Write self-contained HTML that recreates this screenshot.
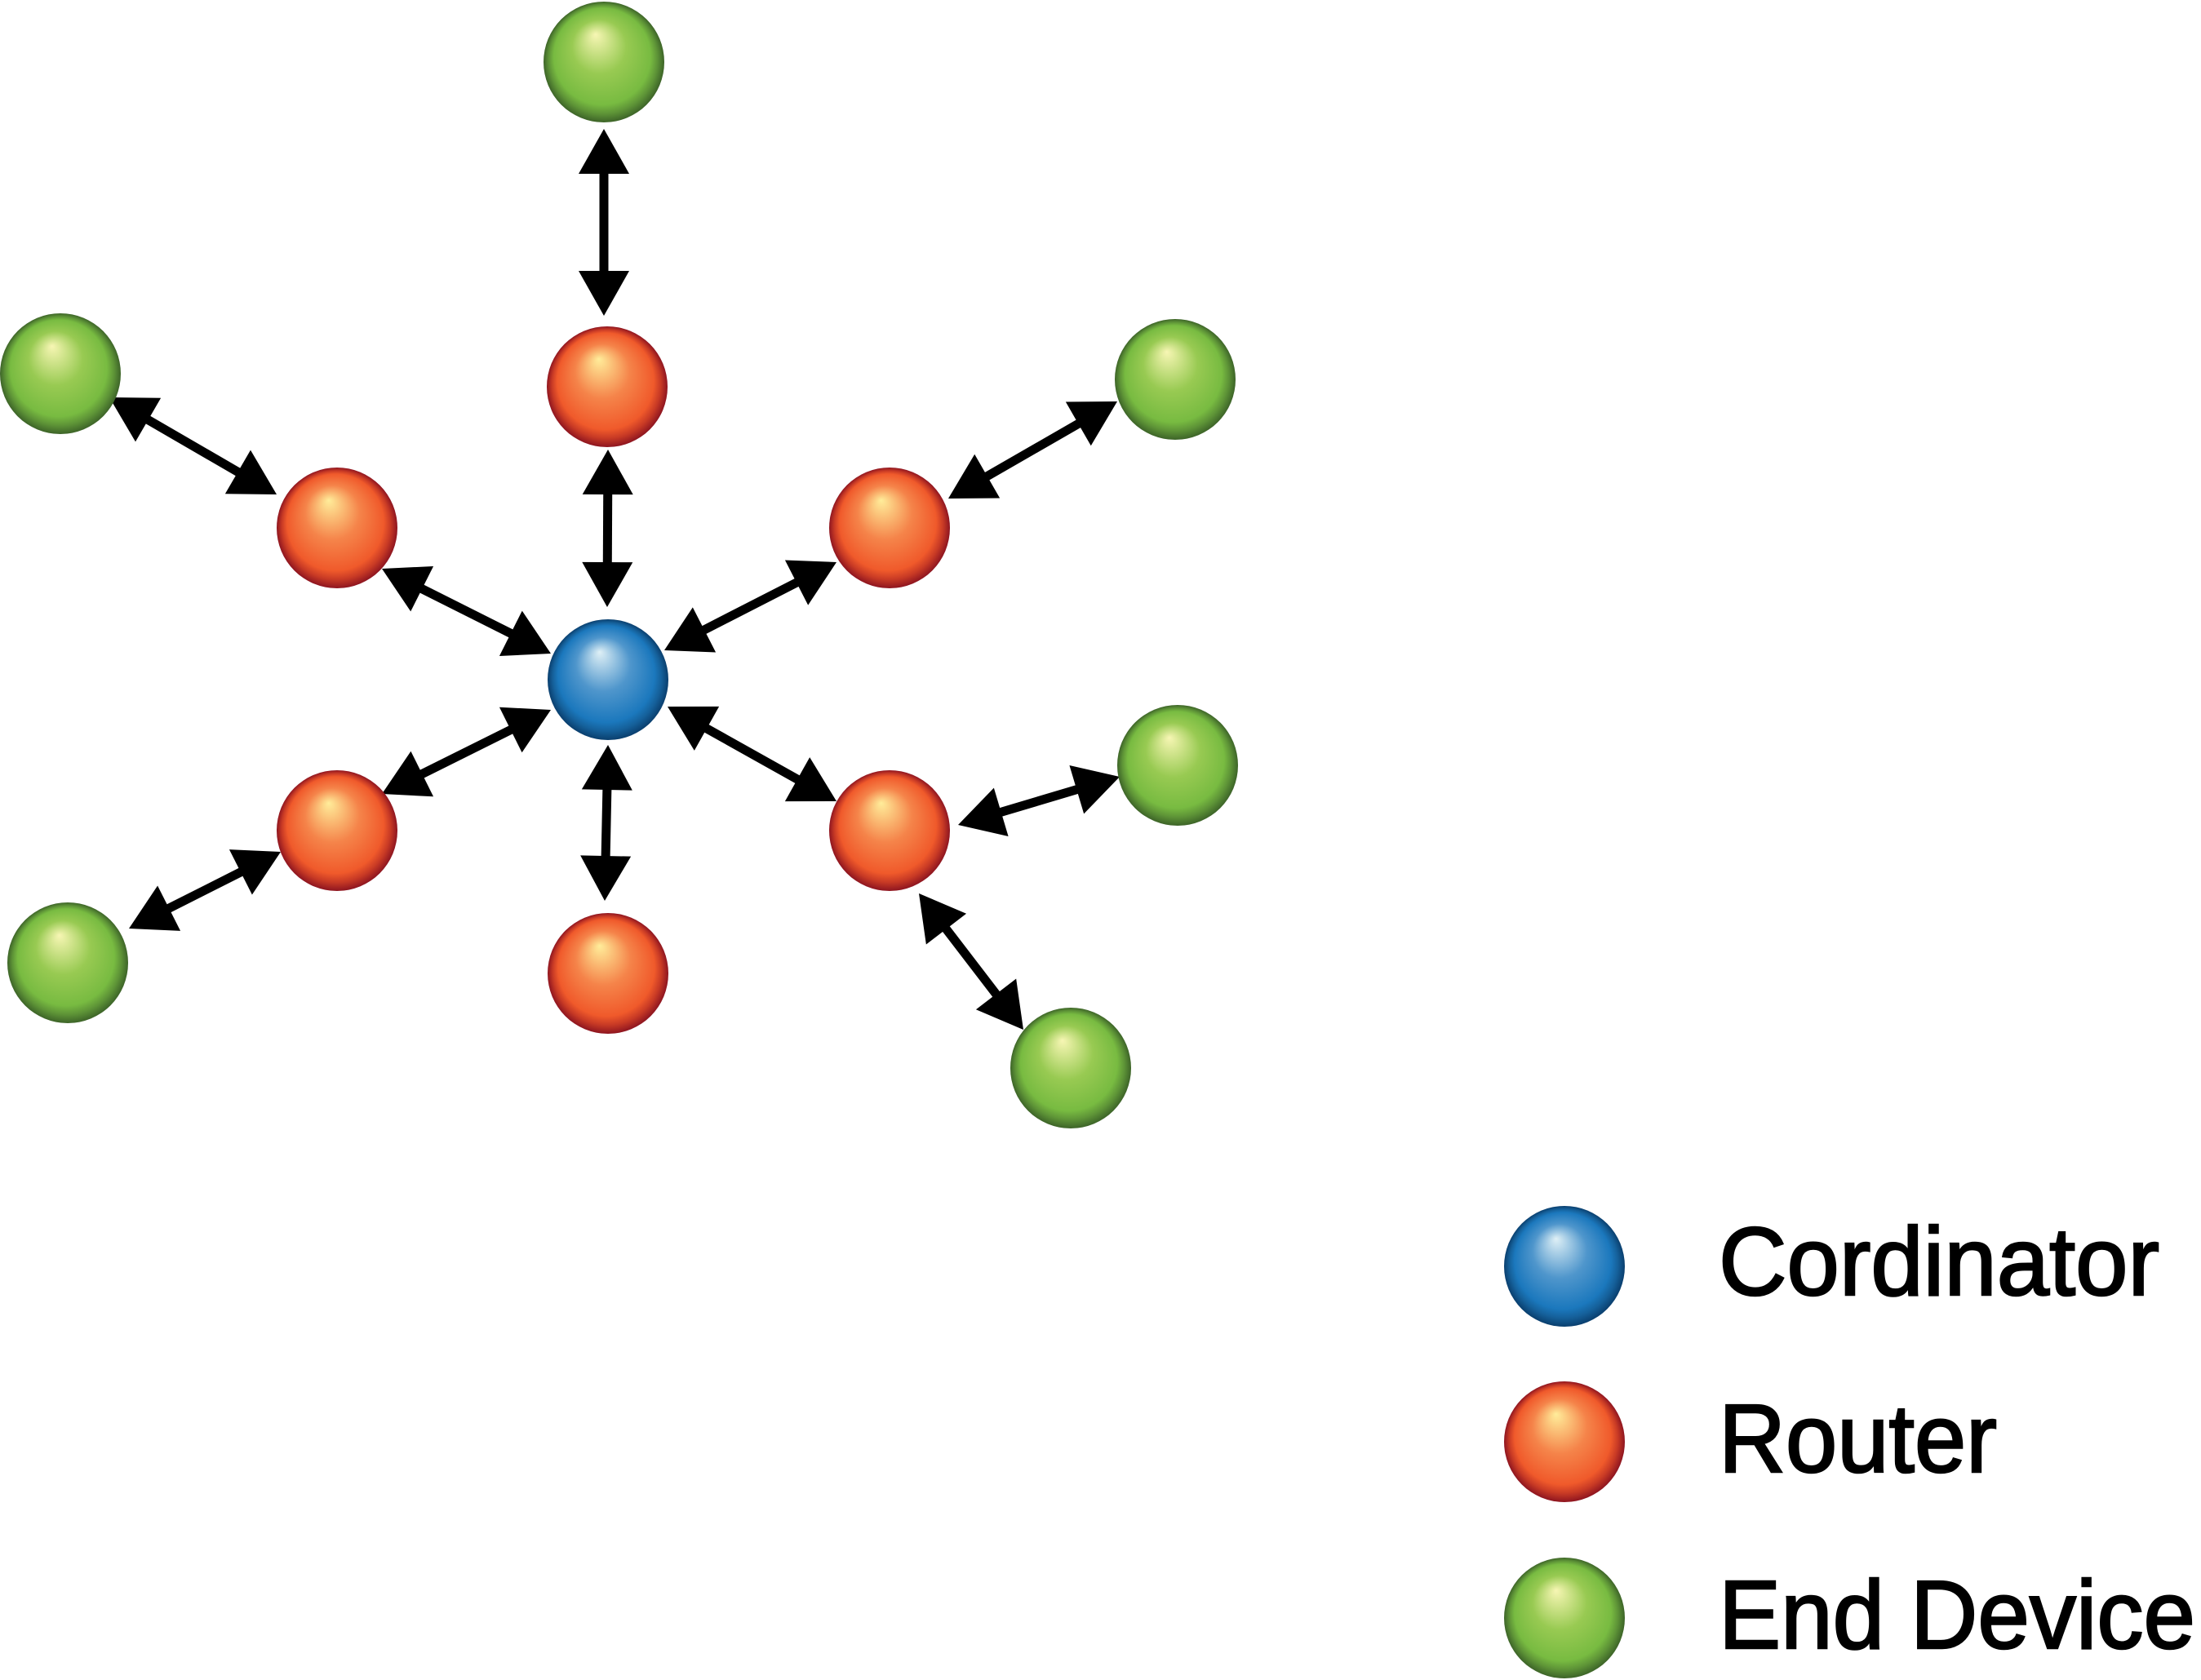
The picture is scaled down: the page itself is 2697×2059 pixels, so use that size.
<!DOCTYPE html>
<html><head><meta charset="utf-8"><style>
html,body{margin:0;padding:0;background:#fff;}
svg{display:block}
text{font-family:"Liberation Sans",Arial,sans-serif;font-size:119px;fill:#000;stroke:#000;stroke-width:2.5px}
</style></head><body>
<svg id="s" width="2697" height="2059" viewBox="0 0 2697 2059" xmlns="http://www.w3.org/2000/svg">
<defs>
<radialGradient id="gb" cx="50%" cy="50%" r="50%" fx="43%" fy="27%">
<stop offset="0" stop-color="#dff0f6"/><stop offset="0.45" stop-color="#4f96cc"/><stop offset="0.8" stop-color="#1b78bd"/><stop offset="0.9" stop-color="#15609a"/><stop offset="1" stop-color="#0a3f6e"/></radialGradient>
<radialGradient id="go" cx="50%" cy="50%" r="50%" fx="43%" fy="27%">
<stop offset="0" stop-color="#ffed9a"/><stop offset="0.45" stop-color="#f5844a"/><stop offset="0.8" stop-color="#f05a2b"/><stop offset="0.9" stop-color="#c83a25"/><stop offset="1" stop-color="#8e1520"/></radialGradient>
<radialGradient id="gg" cx="50%" cy="50%" r="50%" fx="43%" fy="27%">
<stop offset="0" stop-color="#f7f6b4"/><stop offset="0.45" stop-color="#98ca52"/><stop offset="0.8" stop-color="#78bb41"/><stop offset="0.9" stop-color="#5e9437"/><stop offset="1" stop-color="#3d6428"/></radialGradient>
</defs>
<g id="arrows"></g>
<g id="nodes"></g>
<text x="2106" y="1587" textLength="540" lengthAdjust="spacingAndGlyphs">Cordinator</text>
<text x="2106" y="1804" textLength="341" lengthAdjust="spacingAndGlyphs">Router</text>
<text x="2106" y="2020" textLength="584" lengthAdjust="spacingAndGlyphs">End Device</text>
</svg>
<script>
var NS="http://www.w3.org/2000/svg";
var nodes=[[745,833,'gb'],[744,474,'go'],[413,647,'go'],[1090,647,'go'],[413,1018,'go'],[1090,1018,'go'],[745,1193,'go'],
[740,76,'gg'],[74,458,'gg'],[1440,465,'gg'],[1443,938,'gg'],[83,1180,'gg'],[1312,1309,'gg'],
[1917,1552,'gb'],[1917,1767,'go'],[1917,1983,'gg']];
var g=document.getElementById('nodes');
nodes.forEach(function(n){var c=document.createElementNS(NS,'circle');c.setAttribute('cx',n[0]);c.setAttribute('cy',n[1]);c.setAttribute('r',74);c.setAttribute('fill','url(#'+n[2]+')');g.appendChild(c);});
var arrows=[[740,158,740,387],[745,551,744,744],[745,913,741,1104],[468,697,675,801],[814,797,1025,689],[675,870,468,973],[818,866,1025,982],[134,487,339,606],[1162,611,1369,492],[158,1138,344,1044],[1174,1011,1372,952],[1126,1095,1254,1262]];
var a=document.getElementById('arrows');
var L=55,W=31,SW=11;
arrows.forEach(function(r){
 var x1=r[0],y1=r[1],x2=r[2],y2=r[3];var dx=x2-x1,dy=y2-y1,len=Math.hypot(dx,dy);var ux=dx/len,uy=dy/len,px=-uy,py=ux;
 var ln=document.createElementNS(NS,'line');ln.setAttribute('x1',x1+ux*(L-2));ln.setAttribute('y1',y1+uy*(L-2));ln.setAttribute('x2',x2-ux*(L-2));ln.setAttribute('y2',y2-uy*(L-2));ln.setAttribute('stroke','#000');ln.setAttribute('stroke-width',SW);a.appendChild(ln);
 [[x1,y1,1],[x2,y2,-1]].forEach(function(t){var s=t[2];var bx=t[0]+ux*L*s,by=t[1]+uy*L*s;
 var p=document.createElementNS(NS,'polygon');p.setAttribute('points',t[0]+','+t[1]+' '+(bx+px*W)+','+(by+py*W)+' '+(bx-px*W)+','+(by-py*W));p.setAttribute('fill','#000');a.appendChild(p);});
});
</script>
</body></html>
